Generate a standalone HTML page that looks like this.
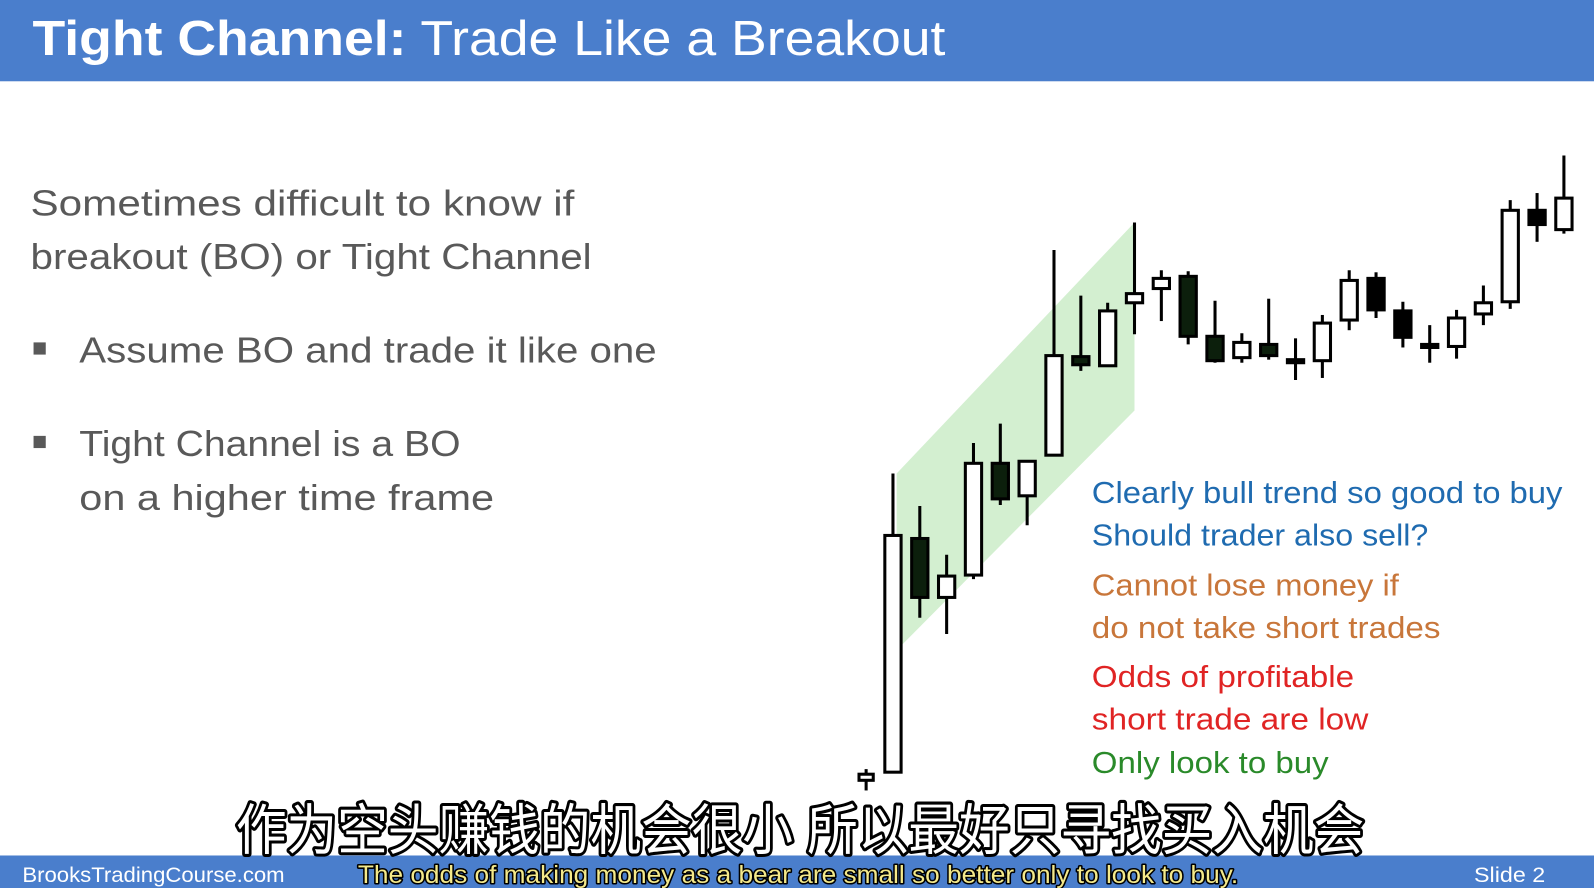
<!DOCTYPE html>
<html><head><meta charset="utf-8"><style>
html,body{margin:0;padding:0;background:#fff;overflow:hidden}
svg{display:block}
</style></head><body>
<svg id="s" width="1594" height="888" viewBox="0 0 1568 874" preserveAspectRatio="none" xmlns="http://www.w3.org/2000/svg">
<rect width="1568" height="874" fill="#fff"/>
<rect x="0" y="0" width="1568" height="80" fill="#4a7ecc"/>
<text x="32" y="54" font-family="Liberation Sans, sans-serif" font-size="48" fill="#fff" textLength="898" lengthAdjust="spacingAndGlyphs"><tspan font-weight="bold">Tight Channel:</tspan> Trade Like a Breakout</text>

<g font-family="Liberation Sans, sans-serif" font-size="36" fill="#595959">
<text x="30" y="212" textLength="535" lengthAdjust="spacingAndGlyphs">Sometimes difficult to know if</text>
<text x="30" y="265" textLength="552" lengthAdjust="spacingAndGlyphs">breakout (BO) or Tight Channel</text>
<rect x="33" y="337" width="12" height="12" fill="#595959"/>
<text x="78" y="357" textLength="568" lengthAdjust="spacingAndGlyphs">Assume BO and trade it like one</text>
<rect x="33" y="429" width="12" height="12" fill="#595959"/>
<text x="78" y="449" textLength="375" lengthAdjust="spacingAndGlyphs">Tight Channel is a BO</text>
<text x="78" y="502" textLength="408" lengthAdjust="spacingAndGlyphs">on a higher time frame</text>
</g>

<polygon points="882,466 1116,219 1116,404 882,640" fill="#d3efd0"/>
<g id="candles"></g>

<g font-family="Liberation Sans, sans-serif" font-size="30">
<text x="1074" y="495" fill="#1f6bb0" textLength="463" lengthAdjust="spacingAndGlyphs">Clearly bull trend so good to buy</text>
<text x="1074" y="537" fill="#1f6bb0" textLength="331" lengthAdjust="spacingAndGlyphs">Should trader also sell?</text>
<text x="1074" y="586" fill="#c8763a" textLength="302" lengthAdjust="spacingAndGlyphs">Cannot lose money if</text>
<text x="1074" y="628" fill="#c8763a" textLength="343" lengthAdjust="spacingAndGlyphs">do not take short trades</text>
<text x="1074" y="676" fill="#e02424" textLength="258" lengthAdjust="spacingAndGlyphs">Odds of profitable</text>
<text x="1074" y="718" fill="#e02424" textLength="272" lengthAdjust="spacingAndGlyphs">short trade are low</text>
<text x="1074" y="761" fill="#2a8a2a" textLength="233" lengthAdjust="spacingAndGlyphs">Only look to buy</text>
</g>

<rect x="0" y="842" width="1568" height="32" fill="#4a7ecc"/>
<text x="22" y="868" font-family="Liberation Sans, sans-serif" font-size="21" fill="#fff" textLength="258" lengthAdjust="spacingAndGlyphs">BrooksTradingCourse.com</text>
<text x="1450" y="868" font-family="Liberation Sans, sans-serif" font-size="21" fill="#fff" textLength="70" lengthAdjust="spacingAndGlyphs">Slide  2</text>

<text x="232" y="836" font-family="Liberation Sans, 'Noto Sans CJK SC', sans-serif" font-size="54" fill="#fff" stroke="#000" stroke-width="6" paint-order="stroke" stroke-linejoin="round" textLength="1110" lengthAdjust="spacingAndGlyphs">作为空头赚钱的机会很小 所以最好只寻找买入机会</text>
<text x="352" y="869" font-family="Liberation Sans, sans-serif" font-size="25" fill="#f4e98a" stroke="#000" stroke-width="3" paint-order="stroke" stroke-linejoin="round" textLength="866" lengthAdjust="spacingAndGlyphs">The odds of making money as a bear are small  so better only to look to buy.</text>
</svg>
<script>
// candle data (price units; higher = up)
const opens  = [132,140,370,312,334,444,412,452,549,540,602,616,628,569,548,561,544,545,585,626,594,561,559,591,603,693,674];
const closes = [138,373,312,333,444,409,446,550,541,594,611,626,569,545,563,550,546,582,624,595,568,558,587,602,693,679,705];
const highs  = [143,434,402,354,464,483,446,654,609,602,681,634,633,604,572,606,567,590,634,632,603,580,595,619,703,710,747];
const lows   = [122,140,292,276,330,403,383,452,535,539,571,584,561,543,543,546,526,528,575,587,558,543,547,580,596,662,670];
const candleX0 = 852, candleStep = 26.4;
function xPos(i){ return candleX0 + i*candleStep; }
function yPos(p){ return 900 - p; }
const NS='http://www.w3.org/2000/svg';
const g=document.getElementById('candles');
for(let i=0;i<highs.length;i++){
  const x=xPos(i);
  const wick=document.createElementNS(NS,'line');
  
  
  wick.setAttribute('x1',x);wick.setAttribute('x2',x);
  wick.setAttribute('y1',yPos(highs[i]));wick.setAttribute('y2',yPos(lows[i]));
  wick.setAttribute('stroke','#000');wick.setAttribute('stroke-width','3');
  g.appendChild(wick);
  const top=Math.max(opens[i],closes[i]), bot=Math.min(opens[i],closes[i]);
  const bull=closes[i]>=opens[i];
  const r=document.createElementNS(NS,'rect');
  
  
  const w=i===0?14:16;
  r.setAttribute('x',x-w/2);r.setAttribute('y',yPos(top));
  r.setAttribute('width',w);r.setAttribute('height',Math.max(top-bot,3));
  r.setAttribute('fill',bull?'#fff':(i<16?'#0c1f0c':'#000'));
  r.setAttribute('stroke','#000');r.setAttribute('stroke-width','3');
  g.appendChild(r);
}
</script>
</body></html>
